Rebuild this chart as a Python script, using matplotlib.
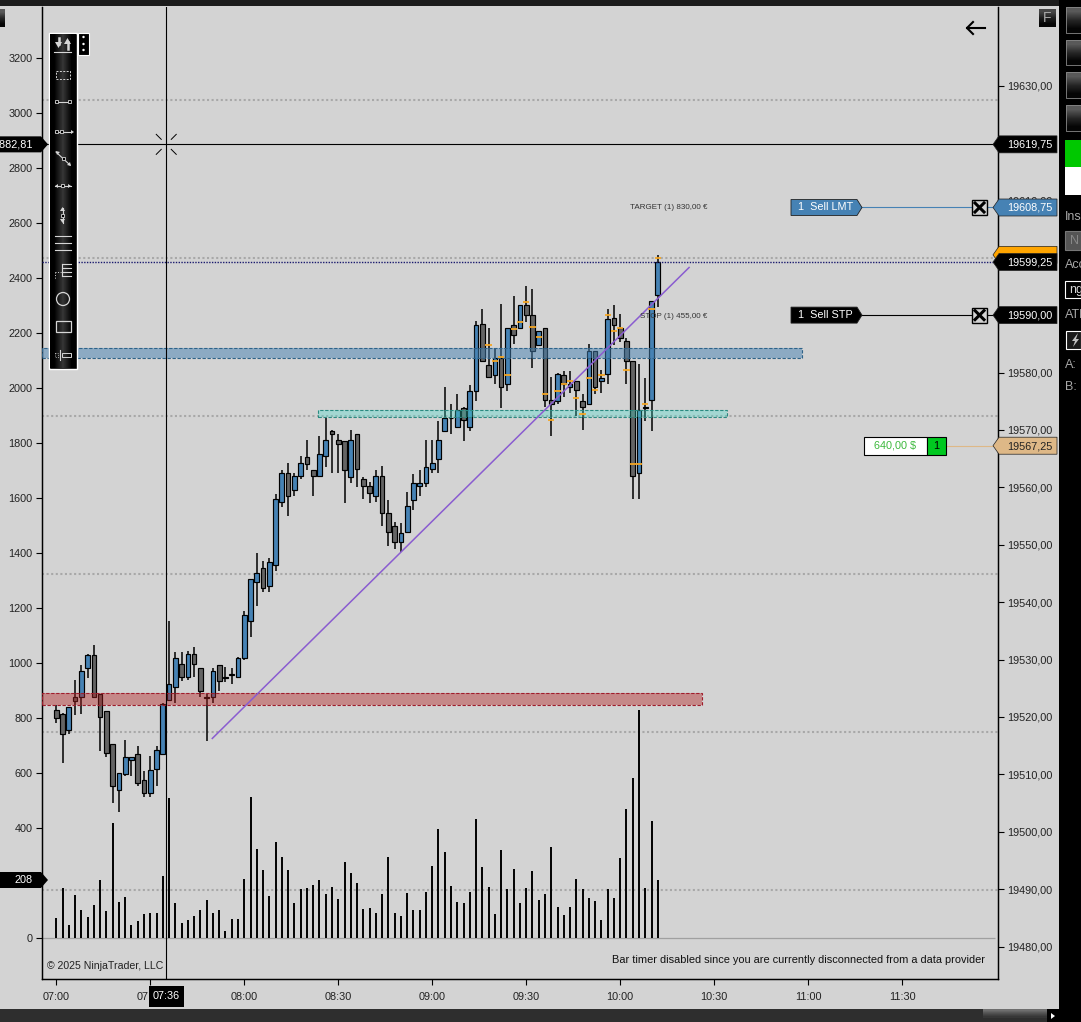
import numpy as np
import matplotlib
matplotlib.use("Agg")
import matplotlib.pyplot as plt
from matplotlib.patches import Polygon, Rectangle, Circle

plt.rcParams['font.family'] = ['Liberation Sans', 'DejaVu Sans']

BG = '#d3d3d3'
W, H = 1081, 1022

opens = [19521.25, 19520.5, 19517.75, 19523.5, 19523.5, 19528.5, 19530.75, 19524.0, 19521.0, 19515.25,
         19507.25, 19510.0, 19512.5, 19513.5, 19509.0, 19506.75, 19511.0, 19513.5, 19523.0, 19525.25,
         19529.25, 19527.0, 19531.0, 19528.5, 19523.5, 19523.5, 19529.0, 19527.0, 19527.5, 19527.0,
         19530.25, 19536.75, 19543.5, 19546.0, 19542.75, 19546.5, 19557.5, 19562.5, 19559.5, 19562.0,
         19565.25, 19563.0, 19562.0, 19565.5, 19569.75, 19568.25, 19568.0, 19561.75, 19569.25, 19561.5,
         19560.25, 19558.5, 19562.0, 19555.5, 19553.25, 19550.5, 19552.25, 19557.75, 19560.25, 19560.75,
         19563.25, 19565.0, 19569.75, 19572.0, 19570.5, 19573.75, 19570.5, 19576.75, 19588.5, 19581.25,
         19579.5, 19582.5, 19578.0, 19588.25, 19587.75, 19591.75, 19590.0, 19584.75, 19587.75, 19575.25,
         19575.0, 19579.5, 19577.5, 19578.5, 19575.0, 19574.5, 19583.75, 19578.5, 19579.75, 19589.5,
         19587.75, 19585.5, 19582.0, 19562.5, 19573.75, 19575.25, 19593.5]
highs = [19522.0, 19520.75, 19521.75, 19526.5, 19529.0, 19531.0, 19532.5, 19524.0, 19521.0, 19515.25,
         19510.25, 19516.0, 19513.0, 19515.0, 19510.5, 19513.25, 19515.0, 19522.5, 19536.75, 19531.25,
         19531.25, 19531.5, 19532.25, 19528.5, 19524.0, 19528.5, 19529.0, 19528.75, 19528.5, 19530.5,
         19538.5, 19544.0, 19548.5, 19547.25, 19547.75, 19558.75, 19563.0, 19564.25, 19562.5, 19565.5,
         19568.25, 19563.0, 19569.0, 19572.0, 19570.0, 19569.25, 19568.0, 19570.0, 19569.25, 19561.75,
         19561.0, 19563.0, 19563.75, 19557.75, 19554.0, 19553.75, 19559.25, 19562.25, 19563.0, 19568.25,
         19568.25, 19571.5, 19577.5, 19574.5, 19576.25, 19574.0, 19577.75, 19589.0, 19591.0, 19587.75,
         19584.25, 19592.0, 19587.75, 19593.25, 19591.75, 19595.0, 19594.5, 19587.25, 19587.75, 19579.25,
         19580.0, 19580.25, 19580.25, 19578.5, 19576.25, 19585.0, 19583.75, 19580.5, 19591.0, 19591.75,
         19590.25, 19586.0, 19582.0, 19581.5, 19579.0, 19592.5, 19600.5]
lows = [19519.0, 19512.0, 19517.0, 19520.25, 19520.5, 19526.75, 19523.5, 19514.0, 19513.0, 19505.0,
        19503.5, 19509.75, 19509.75, 19508.0, 19506.0, 19506.0, 19508.0, 19513.5, 19523.0, 19522.5,
        19526.25, 19526.5, 19527.0, 19523.5, 19515.75, 19522.5, 19524.5, 19526.0, 19525.75, 19527.0,
        19530.0, 19534.0, 19539.25, 19541.75, 19541.75, 19545.5, 19556.5, 19555.0, 19558.5, 19561.5,
        19563.0, 19558.5, 19562.0, 19563.5, 19562.5, 19562.5, 19557.25, 19560.75, 19560.0, 19558.0,
        19557.25, 19557.5, 19553.25, 19549.75, 19549.25, 19548.75, 19552.25, 19556.0, 19558.5, 19560.0,
        19562.5, 19562.5, 19569.75, 19569.25, 19570.5, 19568.0, 19569.75, 19575.0, 19582.0, 19579.25,
        19578.0, 19573.75, 19576.75, 19585.0, 19587.75, 19588.75, 19580.75, 19584.75, 19574.0, 19569.0,
        19574.5, 19575.75, 19576.5, 19572.5, 19570.0, 19574.5, 19576.25, 19576.5, 19578.0, 19584.75,
        19585.25, 19578.0, 19558.0, 19558.0, 19571.5, 19569.75, 19591.5]
closes = [19519.75, 19517.0, 19521.75, 19522.75, 19528.0, 19530.75, 19523.5, 19520.0, 19513.75, 19508.0,
          19510.25, 19513.0, 19513.0, 19508.5, 19506.75, 19510.75, 19514.25, 19522.25, 19525.75, 19530.25,
          19527.0, 19531.0, 19529.25, 19524.5, 19523.25, 19528.0, 19526.25, 19526.75, 19527.25, 19530.25,
          19537.75, 19544.0, 19545.0, 19542.5, 19547.0, 19558.0, 19562.5, 19558.5, 19562.0, 19564.25,
          19564.0, 19562.0, 19565.75, 19568.25, 19569.25, 19567.5, 19563.0, 19568.25, 19563.25, 19560.25,
          19559.0, 19562.0, 19555.5, 19552.25, 19550.5, 19552.0, 19556.75, 19560.75, 19560.75, 19563.5,
          19564.25, 19568.25, 19572.0, 19572.0, 19573.5, 19571.75, 19576.75, 19588.25, 19582.0, 19579.25,
          19582.5, 19577.5, 19587.75, 19586.5, 19591.75, 19590.0, 19583.75, 19587.25, 19575.25, 19574.5,
          19579.75, 19578.0, 19578.0, 19577.0, 19574.0, 19583.75, 19577.5, 19579.0, 19589.25, 19588.25,
          19586.0, 19582.0, 19562.0, 19573.5, 19574.0, 19592.5, 19599.25]
volumes = [74, 183, 48, 158, 103, 78, 121, 212, 99, 419, 132, 150, 48, 63, 88, 92, 92, 227, 510, 128,
           56, 67, 81, 103, 139, 92, 103, 27, 70, 70, 216, 514, 325, 248, 154, 350, 296, 248, 128, 179,
           183, 194, 212, 161, 187, 143, 278, 238, 201, 104, 108, 90, 159, 293, 90, 79, 162, 101, 101, 166,
           261, 395, 311, 188, 130, 126, 166, 431, 257, 184, 86, 319, 177, 250, 126, 181, 242, 137, 159, 330,
           112, 82, 112, 213, 177, 144, 133, 64, 177, 144, 290, 468, 581, 828, 181, 424, 210]
# orange ticks, only the later bars have them
marker_bars = list(range(69, 97))
marker_prices = [19584.75, 19582.0, 19582.75, 19579.5, 19587.5, 19588.75, 19592.25, 19588.0, 19586.25, 19576.25,
                 19571.75, 19576.75, 19578.0, 19578.5, 19575.5, 19572.75, 19579.0, 19577.0, 19579.5, 19590.0,
                 19587.25, 19587.75, 19580.5, 19564.0, 19564.0, 19574.5, 19591.0, 19600.0]

minutes_per_bar = 2
time_ticks = [0, 30, 60, 90, 120, 150, 180, 210, 240, 270]
time_labels = ['07:00', '07:30', '08:00', '08:30', '09:00', '09:30', '10:00', '10:30', '11:00', '11:30']
left_ticks = list(range(0, 3400, 200))
right_ticks = list(range(19480, 19640, 10))
grid_levels = [175, 749, 1324, 1898, 2473, 3047]

red_zone = (19522.0, 19524.1, 206)
blue_zone = (19582.55, 19584.35, 238)
teal_zone = (19572.2, 19573.55, 83.6, 214)
trend_t = [49.8, 202]
trend_p = [19516.25, 19598.3]
cross_t = 35.1
cross_p = 19619.75
last_price = 19599.25

fig = plt.figure(figsize=(W / 100, H / 100), dpi=100, facecolor=BG)
ax = fig.add_axes([42 / W, (H - 979) / H, 956 / W, 972 / H], facecolor=BG)
ax_p = ax.twinx()

ax.set_xlim(-4.56, 300.6)
ax.set_ylim(-149, 3385.5)
ax_p.set_ylim(19474.34, 19643.68)

for a in (ax, ax_p):
    a.spines['top'].set_visible(False)
    for s in ['left', 'right', 'bottom']:
        a.spines[s].set_linewidth(0.9)
ax.set_xticks(time_ticks)
ax.set_xticklabels(time_labels)
ax.set_yticks(left_ticks)
ax_p.set_yticks(right_ticks)
ax_p.set_yticklabels(['%d,00' % v for v in right_ticks])
ax.tick_params(axis='x', length=4.5, width=0.8, labelsize=7.8, pad=5, labelcolor='#222222')
ax.tick_params(axis='y', length=4, width=0.8, labelsize=7.8, pad=3, labelcolor='#222222')
ax_p.tick_params(axis='y', length=4, width=0.8, labelsize=7.8, pad=2.4, labelcolor='#222222')

t = np.arange(len(opens)) * minutes_per_bar
o = np.array(opens)
c = np.array(closes)

# volume and grid go on the left scale
ax.hlines(grid_levels, -4.56, 300.6, color='#a8a8a8', lw=1.5, linestyles=(0, (1, 1.2)), zorder=1)
ax.hlines(0, -4.56, 299.5, color='#a0a0a0', lw=0.9, zorder=1)
ax.vlines(t, 0, volumes, color='black', lw=1.4, zorder=2)

# candles
ax_p.vlines(t, lows, highs, color='black', lw=1.1, zorder=3)
colors = ['#4682b4' if c[i] >= o[i] else '#646464' for i in range(len(o))]
ax_p.bar(t, np.abs(c - o), bottom=np.minimum(o, c), width=1.5, color=colors, edgecolor='black', linewidth=0.85, zorder=4)
ax_p.hlines(marker_prices, t[marker_bars] - 1.0, t[marker_bars] + 1.0, color='#f5a623', lw=1.3, zorder=7)

# zones
ax_p.add_patch(Rectangle((-4.56, red_zone[0]), red_zone[2] + 4.56, red_zone[1] - red_zone[0], fc='#b22222', alpha=0.42, ec='none', zorder=5))
ax_p.add_patch(Rectangle((-4.56, red_zone[0]), red_zone[2] + 4.56, red_zone[1] - red_zone[0], fc='none', ec='#a01c2c', lw=0.8, ls=(0, (3, 1.5)), zorder=5))
ax_p.add_patch(Rectangle((-4.56, blue_zone[0]), blue_zone[2] + 4.56, blue_zone[1] - blue_zone[0], fc='#4682b4', alpha=0.5, ec='none', zorder=5))
ax_p.add_patch(Rectangle((-4.56, blue_zone[0]), blue_zone[2] + 4.56, blue_zone[1] - blue_zone[0], fc='none', ec='#2e6288', lw=0.8, ls=(0, (3, 1.5)), zorder=5))
ax_p.add_patch(Rectangle((teal_zone[2], teal_zone[0]), teal_zone[3] - teal_zone[2], teal_zone[1] - teal_zone[0], fc='#40e0d0', alpha=0.32, ec='none', zorder=5))
ax_p.add_patch(Rectangle((teal_zone[2], teal_zone[0]), teal_zone[3] - teal_zone[2], teal_zone[1] - teal_zone[0], fc='none', ec='#2a8a80', lw=0.8, ls=(0, (3, 1.5)), zorder=5))

ax_p.plot(trend_t, trend_p, color='#8a5cd0', lw=1.1, zorder=6)
ax_p.axhline(last_price, color='#1a1a6e', lw=1.0, ls=(0, (1, 1)), zorder=6)
ax_p.axhline(cross_p, color='black', lw=0.8, zorder=8)
ax_p.axvline(cross_t, color='black', lw=0.8, zorder=8)

# everything below is the platform chrome, drawn in pixels on top
ui = fig.add_axes([0, 0, 1, 1], facecolor='none')
ui.set_axis_off()
ui.set_xlim(0, W)
ui.set_ylim(H, 0)


def py(p):
    return H - ax_p.transData.transform((0, p))[1]


def tx(m):
    return ax.transData.transform((m, 0))[0]


def rect(x0, y0, x1, y1, fc, ec='none', lw=0.8, z=10):
    ui.add_patch(Rectangle((x0, y0), x1 - x0, y1 - y0, fc=fc, ec=ec, lw=lw, zorder=z))


def grad(x0, y0, x1, y1, vals, horizontal=False, z=10):
    g = np.array(vals)[:, None]
    if horizontal:
        g = g.T
    ui.imshow(g, extent=(x0, x1, y1, y0), cmap='gray', vmin=0, vmax=255, aspect='auto', interpolation='bilinear', zorder=z)


def price_tag(p, text, fc='black', tc='white', z=12):
    y = py(p)
    ui.add_patch(Polygon([(993, y), (999, y - 8.5), (1057, y - 8.5), (1057, y + 8.5), (999, y + 8.5)], fc=fc, ec='#222222', lw=0.5, zorder=z))
    if text:
        ui.text(1030, y + 0.3, text, color=tc, ha='center', va='center', fontsize=7.8, zorder=z + 1)


def left_tag(y, text):
    ui.add_patch(Polygon([(0, y - 8), (41, y - 8), (48, y), (41, y + 8), (0, y + 8)], fc='black', ec='none', zorder=12))
    ui.text(33, y, text, color='white', ha='right', va='center', fontsize=7.8, zorder=13)


def order_row(p, label, fc, line):
    y = py(p)
    ui.plot([860, 972], [y, y], color=line, lw=0.8, zorder=9)
    ui.plot([986, 994], [y, y], color=line, lw=0.8, zorder=9)
    ui.add_patch(Polygon([(791, y - 8), (857, y - 8), (862, y), (857, y + 8), (791, y + 8)], fc=fc, ec='#222222', lw=0.6, zorder=11))
    ui.text(798, y, label, color='white', ha='left', va='center', fontsize=7.8, zorder=12)
    rect(972, y - 7.5, 987, y + 7.5, BG, 'black', 1.0, z=11)
    ui.plot([975, 984], [y - 4.5, y + 4.5], color='black', lw=2.2, zorder=12)
    ui.plot([975, 984], [y + 4.5, y - 4.5], color='black', lw=2.2, zorder=12)


# crosshair corner ticks
cx, cy = tx(cross_t), py(cross_p)
for dx, dy in [(-1, -1), (1, -1), (-1, 1), (1, 1)]:
    ui.plot([cx + dx * 5, cx + dx * 10], [cy + dy * 5, cy + dy * 10], color='black', lw=0.7, zorder=9)

# frame strips
rect(0, 0, W, 6.5, '#1c1c1c')
rect(0, 1009, W, H, '#2e2e2e')
rect(1059, 0, W, H, 'black', z=11)
grad(983, 1009, 1047, 1018, [110, 80, 55], z=11)
rect(1047, 1009, 1058, 1022, 'black', z=11)
ui.add_patch(Polygon([(1051, 1013), (1051, 1019), (1055, 1016)], fc='white', ec='none', zorder=12))
rect(1058, 1009, W, H, 'black', z=11)

# top left stub, F button, back arrow
grad(0, 9, 5, 27, [90, 40, 5])
grad(1039, 9, 1056, 27, [70, 30, 5])
ui.text(1047.5, 18, 'F', color='#a8a8a8', ha='center', va='center', fontsize=10, zorder=11)
ui.plot([967, 985], [28, 28], color='black', lw=1.5, zorder=10)
ui.plot([973, 967, 973], [22, 28, 34], color='black', lw=1.5, zorder=10)

# side panel
for y0, y1 in [(7, 33), (40, 65), (72, 98), (105, 131)]:
    grad(1066, y0, W, y1, [90, 40, 5], z=12)
    ui.plot([W, 1066, 1066, W], [y0, y0, y1, y1], color='#888888', lw=0.6, zorder=13)
rect(1065, 140, W, 167, '#00c800', z=12)
rect(1065, 167, W, 195, 'white', z=12)
rect(1065, 231, W, 250, '#555555', '#777777', z=12)
rect(1065, 281, W, 298, 'black', 'white', z=12)
rect(1066, 331, W, 349, '#1a1a1a', 'white', z=12)
ui.text(1065, 217, 'Ins', color='#a8a8a8', ha='left', va='center', fontsize=9, zorder=13)
ui.text(1070, 241, 'N', color='#888888', ha='left', va='center', fontsize=9, zorder=13)
ui.text(1065, 265, 'Acc', color='#a8a8a8', ha='left', va='center', fontsize=9, zorder=13)
ui.text(1069, 290, 'ng', color='#d8d8d8', ha='left', va='center', fontsize=9, zorder=13)
ui.text(1065, 315, 'ATM', color='#a8a8a8', ha='left', va='center', fontsize=9, zorder=13)
ui.add_patch(Polygon([(1078, 333), (1072, 341), (1075, 341), (1073, 347), (1079, 339), (1076, 339)], fc='#c0c0c0', ec='none', zorder=13))
ui.text(1065, 365, 'A:', color='#a8a8a8', ha='left', va='center', fontsize=9, zorder=13)
ui.text(1065, 387, 'B:', color='#a8a8a8', ha='left', va='center', fontsize=9, zorder=13)

# price markers on the right
price_tag(19600.5, '', fc='#ffa500', z=11)
price_tag(cross_p, '19619,75')
price_tag(19608.75, '19608,75', fc='#4682b4')
price_tag(last_price, '19599,25')
price_tag(19590.0, '19590,00')
price_tag(19567.25, '19567,25', fc='#deb887', tc='#222222')
left_tag(py(cross_p), '2882,81')
left_tag(880, '208')

order_row(19608.75, '1  Sell LMT', '#4682b4', '#4682b4')
order_row(19590.0, '1  Sell STP', 'black', 'black')

# open position box
yp = py(19567.25)
ui.plot([946, 994], [yp, yp], color='#deb887', lw=0.8, zorder=9)
rect(864, yp - 9, 927, yp + 9, 'white', 'black', 0.8, z=11)
rect(927, yp - 9, 946, yp + 9, '#00c820', 'black', 0.8, z=11)
ui.text(895.5, yp, '640,00 $', color='#3cb83c', ha='center', va='center', fontsize=7.8, zorder=12)
ui.text(936.5, yp, '1', color='black', ha='center', va='center', fontsize=7.8, zorder=12)

ui.text(707, 207.5, 'TARGET (1) 830,00 €', color='#333333', ha='right', va='center', fontsize=5.8, zorder=9)
ui.text(707, 316, 'STOP (1) 455,00 €', color='#333333', ha='right', va='center', fontsize=5.8, zorder=9)
ui.text(47, 966, '© 2025 NinjaTrader, LLC', color='#222222', ha='left', va='center', fontsize=7.6, zorder=9)
ui.text(985, 960, 'Bar timer disabled since you are currently disconnected from a data provider', color='#111111', ha='right', va='center', fontsize=7.9, zorder=9)

# time label under the crosshair
rect(149, 986, 184, 1007, 'black', z=12)
ui.text(166.5, 996, '07:36', color='white', ha='center', va='center', fontsize=7.8, zorder=13)

# drawing toolbar
rect(49, 33, 77, 369, 'black', 'white', 1.0, z=10)
grad(50, 34, 76, 368, [0, 55, 0], horizontal=True, z=11)
rect(78, 33, 89, 55, 'black', 'white', 0.8, z=11)
for y in [37, 44, 50]:
    ui.add_patch(Circle((83.5, y), 1.2, fc='white', ec='none', zorder=12))
ic = '#d6d6d6'


def seg(xs, ys, lw=0.8, ls='-'):
    ui.plot(xs, ys, color=ic, lw=lw, ls=ls, zorder=13)


# arrows
ui.add_patch(Polygon([(55, 42), (62, 42), (58.5, 48)], fc=ic, ec='none', zorder=13))
ui.add_patch(Polygon([(64, 44), (71, 44), (67.5, 38)], fc=ic, ec='none', zorder=13))
seg([58.5, 58.5], [38, 44], 1.8)
seg([67.5, 67.5], [42, 49], 1.8)
seg([54, 71], [52, 52])
# dashed rectangle
ui.add_patch(Rectangle((56, 71), 14, 8, fc='none', ec=ic, lw=0.7, ls=(0, (2, 1.5)), zorder=13))
# line tools
seg([55, 70], [102, 102])
ui.add_patch(Rectangle((55, 100.5), 3, 3, fc='black', ec=ic, lw=0.6, zorder=14))
ui.add_patch(Rectangle((68, 100.5), 3, 3, fc='black', ec=ic, lw=0.6, zorder=14))
seg([55, 71], [132, 132])
ui.add_patch(Rectangle((55, 130.5), 3, 3, fc='black', ec=ic, lw=0.6, zorder=14))
ui.add_patch(Rectangle((60, 130.5), 3, 3, fc='black', ec=ic, lw=0.6, zorder=14))
ui.add_patch(Polygon([(71, 130), (71, 134), (74, 132)], fc=ic, ec='none', zorder=14))
seg([56, 70], [152, 165])
ui.add_patch(Polygon([(56, 151), (60, 152), (57, 155)], fc=ic, ec='none', zorder=14))
ui.add_patch(Polygon([(71, 166), (67, 165), (70, 162)], fc=ic, ec='none', zorder=14))
ui.add_patch(Rectangle((62, 157), 3, 3, fc='black', ec=ic, lw=0.6, zorder=14))
seg([55, 71], [186, 186])
ui.add_patch(Rectangle((61, 184.5), 3, 3, fc='black', ec=ic, lw=0.6, zorder=14))
ui.add_patch(Polygon([(55, 186), (58, 184), (58, 188)], fc=ic, ec='none', zorder=14))
ui.add_patch(Polygon([(71, 186), (68, 184), (68, 188)], fc=ic, ec='none', zorder=14))
seg([62.5, 62.5], [208, 223])
ui.add_patch(Rectangle((61, 214), 3, 3, fc='black', ec=ic, lw=0.6, zorder=14))
ui.add_patch(Polygon([(62.5, 207), (60, 211), (65, 211)], fc=ic, ec='none', zorder=14))
ui.add_patch(Polygon([(62.5, 223), (60, 219), (65, 219)], fc=ic, ec='none', zorder=14))
for y in [236, 243, 250]:
    seg([55, 71], [y, y])
for y in [264, 268, 272, 276]:
    seg([62, 71], [y, y])
seg([62, 62], [264, 276])
seg([55, 62], [272, 272], 0.7, ':')
seg([55, 55], [272, 279], 0.7, ':')
ui.add_patch(Circle((63, 299), 6.5, fc='none', ec=ic, lw=0.9, zorder=13))
ui.add_patch(Rectangle((55.5, 321.5), 15, 10.5, fc='none', ec=ic, lw=0.9, zorder=13))
seg([60, 60], [350, 360])
ui.add_patch(Rectangle((62, 353), 9, 4, fc='none', ec=ic, lw=0.7, zorder=13))
ui.add_patch(Rectangle((55, 353), 3, 4, fc='none', ec=ic, lw=0.6, ls=':', zorder=13))

ui.set_xlim(0, W)
ui.set_ylim(H, 0)
fig.savefig('out.png', dpi=100, facecolor=BG)
